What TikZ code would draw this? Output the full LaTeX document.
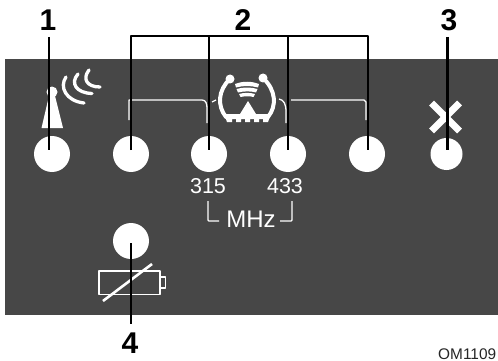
\documentclass[tikz,border=0pt]{standalone}
\usepackage{fontspec}
\setmainfont{Liberation Sans}
\begin{document}
\begin{tikzpicture}[x=1pt,y=-1pt,line join=round,
  lamp/.style={circle,fill=white,draw=none,inner sep=0pt,minimum size=36pt},
  callout/.style={font=\bfseries\fontsize{30}{30}\selectfont,text=black,inner sep=0pt},
  leader/.style={draw=black,line width=2.9pt},
  thin white/.style={draw=white,line width=1.3pt},
  thick white/.style={draw=white,line width=3.3pt,line cap=round},
  panel text/.style={text=white,font=\fontsize{21.5}{22}\selectfont,inner sep=0pt}]
\useasboundingbox (0,0) rectangle (498,361);
\clip (0,0) rectangle (498,361);
\fill[white] (0,0) rectangle (498,361);
\fill[fill=black!72] (5,59) rectangle (498,315);
% lamps
\node[lamp] (l1) at (52,154) {};
\node[lamp] (l2) at (131,154) {};
\node[lamp] (l3) at (209,154) {};
\node[lamp] (l4) at (288,154) {};
\node[lamp] (l5) at (367,154) {};
\node[lamp,minimum size=32pt] (l6) at (446.5,154) {};
\node[lamp] (l7) at (131,241) {};
% antenna
\fill[white] (41.5,128) -- (49,96) -- (55,96) -- (63,128) -- cycle;
\fill[white] (52,92) circle (5.5);
\draw[thick white] (66,77) .. controls (59,87) and (66,101) .. (84,103);
\draw[thick white] (78,74) .. controls (70,83) and (76,93) .. (92,93.5);
\draw[thick white] (89,70) .. controls (82,79) and (87,87) .. (100,87);
% TPMS
\draw[white,line width=4pt,line cap=round] (230,79) .. controls (218,90) and (217,106) .. (226,117);
\draw[white,line width=4pt,line cap=round] (263,78) .. controls (276,90) and (277,106) .. (268,117);
\fill[white] (230,79) circle (4.5);
\fill[white] (263,78) circle (4.5);
\fill[white] (224,114) -- (271,114) -- (268,122) -- (263,122) -- (263,119) -- (259,119) -- (259,122) -- (254,122) -- (254,119) -- (250,119) -- (250,122) -- (245,122) -- (245,119) -- (241,119) -- (241,122) -- (236,122) -- (236,119) -- (232,119) -- (232,122) -- (227,122) -- cycle;
\fill[white] (248,101) -- (240,114) -- (256,114) -- cycle;
\fill[white] (235,84) .. controls (243,81) and (251,81) .. (259,84) -- (258,87.5) .. controls (251,85.5) and (243,85.5) .. (236,87.5) -- cycle;
\fill[white] (236.5,89) .. controls (243,87) and (251,87) .. (257.5,89) -- (256,92.5) .. controls (251,91) and (244,91) .. (238,92.5) -- cycle;
\fill[white] (239,94) .. controls (244,92.5) and (250,92.5) .. (255,94) -- (253.5,97) .. controls (250,96) and (245,96) .. (240.5,97) -- cycle;
% brackets
\draw[thin white] (129,120) -- (129,100) -- (202,100) .. controls (206,100) and (207,104) .. (207,108) -- (207,123);
\draw[thin white] (212,102) -- (216,100);
\draw[thin white] (279,99) .. controls (284,100) and (286,104) .. (286,112) -- (286,123);
\draw[thin white] (291,100) -- (364,100) -- (366,102) -- (366,120);
% X
\draw[white,line width=7pt] (431.5,103) -- (459.5,131);
\draw[white,line width=7pt] (459.5,103) -- (431.5,131);
% frequencies
\node[panel text] (f1) at (208,186) {315};
\node[panel text] (f2) at (285,186) {433};
\node[panel text,font=\fontsize{24}{24}\selectfont] (mhz) at (251,219) {MHz};
\draw[thin white] (208,201) -- (208,220) .. controls (208,221) and (209,221) .. (210,221) -- (219,221);
\draw[thin white] (292,201) -- (292,220) .. controls (292,221) and (291,221) .. (290,221) -- (280,221);
% battery
\draw[draw=white,line width=1.2pt] (99,271) rectangle (160,294.5);
\draw[draw=white,line width=1.2pt] (160,277) rectangle (165.5,288);
\draw[white,line width=2.6pt] (103,301) -- (152,264);
% leaders
\node[callout] (n1) at (48,20) {1};
\node[callout] (n2) at (243,20) {2};
\node[callout] (n3) at (449,20) {3};
\node[callout] (n4) at (130,343) {4};
\coordinate (t1) at (49,37);
\coordinate (t2) at (131,36);
\coordinate (t5) at (368,36);
\coordinate (t3) at (447.5,37);
\draw[leader] (t1) -- (49,150);
\draw[leader] (131,150) -- (t2) -- (t5) -- (368,150);
\draw[leader] (209,36) -- (209,150);
\draw[leader] (288,36) -- (288,150);
\draw[leader] (t3) -- (447.5,150);
\draw[leader] (131,243) -- (131,324);
\node[anchor=base west,inner sep=0pt,text=black!85,font=\fontsize{15.4}{15.4}\selectfont] (om) at (438,359) {OM1109};
\end{tikzpicture}
\end{document}
